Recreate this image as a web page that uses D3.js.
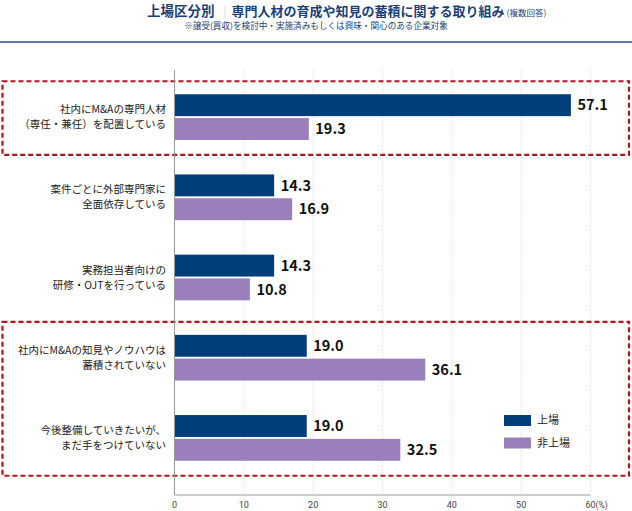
<!DOCTYPE html>
<html>
<head>
<meta charset="utf-8">
<script src="https://cdn.jsdelivr.net/npm/d3@7"></script>
<style>
  html, body { margin: 0; padding: 0; background: #fff; }
  svg { display: block; font-family: "Noto Sans CJK JP", "Noto Sans", sans-serif; }
</style>
</head>
<body>
<svg id="chart" width="632" height="511"></svg>
<script>
// categories (two-line labels)
const categories = [
  ["社内にM&Aの専門人材", "（専任・兼任）を配置している"],
  ["案件ごとに外部専門家に", "全面依存している"],
  ["実務担当者向けの", "研修・OJTを行っている"],
  ["社内にM&Aの知見やノウハウは", "蓄積されていない"],
  ["今後整備していきたいが、", "まだ手をつけていない"]
];
const seriesNames = ["上場", "非上場"];
const listed = [57.1, 14.3, 14.3, 19.0, 19.0];
const unlisted = [19.3, 16.9, 10.8, 36.1, 32.5];
const xTicks = [0, 10, 20, 30, 40, 50, 60];
const highlighted = [[0], [3, 4]]; // groups inside red dashed boxes

const colors = ["#003f7c", "#9a80bb"];
const navy = "#1b3f78";

const svg = d3.select("#chart");
const W = 632;

// title
const title = svg.append("text")
  .attr("x", 147)
  .attr("y", 16)
  .attr("fill", navy)
  .attr("font-weight", "bold");
title.append("tspan").attr("font-size", 13.5).text("上場区分別");
title.append("tspan").attr("font-size", 13).attr("fill", "#c8c8d0").attr("font-weight", "normal").attr("dx", 4).text("｜");
title.append("tspan").attr("font-size", 13).text("専門人材の育成や知見の蓄積に関する取り組み");
title.append("tspan").attr("font-size", 8.5).attr("font-weight", "normal").attr("dx", 2).text("(複数回答)");

svg.append("text")
  .attr("x", 316).attr("y", 29)
  .attr("text-anchor", "middle")
  .attr("font-size", 8.6)
  .attr("fill", navy)
  .text("※譲受(買収)を検討中・実施済みもしくは興味・関心のある企業対象");

svg.append("line")
  .attr("x1", 0).attr("x2", W).attr("y1", 42).attr("y2", 42)
  .attr("stroke", "#2a4f86").attr("stroke-width", 1.6);

// scales
const x = d3.scaleLinear().domain([0, 60]).range([174.5, 590.5]);
const yTop = 70, yBottom = 495;
const y = d3.scaleBand()
  .domain(d3.range(categories.length))
  .range([77, 478])
  .paddingInner(0.43)
  .paddingOuter(0.215);
const ySub = d3.scaleBand()
  .domain(d3.range(seriesNames.length))
  .range([0, y.bandwidth()])
  .paddingInner(0.08);

// grid lines
svg.append("g")
  .selectAll("line")
  .data(xTicks.filter(d => d > 0))
  .join("line")
  .attr("x1", d => x(d)).attr("x2", d => x(d))
  .attr("y1", yTop).attr("y2", yBottom)
  .attr("stroke", "#c9c9c9")
  .attr("stroke-width", 0.8)
  .attr("stroke-dasharray", "1,1.5");

// red dashed boxes
const boxes = highlighted.map(g => ({
  top: y(g[0]) - 13,
  bottom: y(g[g.length - 1]) + y.bandwidth() + 15
}));
svg.append("g")
  .selectAll("rect")
  .data(boxes)
  .join("rect")
  .attr("x", 2.5).attr("width", 626.5)
  .attr("y", d => d.top).attr("height", d => d.bottom - d.top)
  .attr("fill", "none")
  .attr("stroke", "#b5121b")
  .attr("stroke-width", 2.2)
  .attr("stroke-dasharray", "5,3");

// axes lines
svg.append("line")
  .attr("x1", x(0)).attr("x2", x(0)).attr("y1", yTop).attr("y2", yBottom)
  .attr("stroke", "#9a9a9a").attr("stroke-width", 1);
svg.append("line")
  .attr("x1", x(0)).attr("x2", x(60)).attr("y1", yBottom).attr("y2", yBottom)
  .attr("stroke", "#9a9a9a").attr("stroke-width", 1);

// tick labels
svg.append("g")
  .selectAll("text")
  .data(xTicks)
  .join("text")
  .attr("x", d => x(d))
  .attr("y", 508)
  .attr("text-anchor", "middle")
  .attr("font-family", "Roboto, sans-serif")
  .attr("font-size", 9)
  .attr("fill", "#444")
  .text(d => d);
svg.append("text")
  .attr("x", x(60) + 5).attr("y", 508)
  .attr("font-family", "Roboto, sans-serif")
  .attr("font-size", 8.5)
  .attr("fill", "#444")
  .text("(%)");

// bars
const rows = categories.map((c, i) => ({ i, values: [listed[i], unlisted[i]] }));
const group = svg.append("g")
  .selectAll("g")
  .data(rows)
  .join("g")
  .attr("transform", d => `translate(0,${y(d.i)})`);

group.selectAll("rect")
  .data(d => d.values.map((v, s) => ({ v, s })))
  .join("rect")
  .attr("x", x(0) + 0.5)
  .attr("y", d => ySub(d.s))
  .attr("width", d => x(d.v) - x(0))
  .attr("height", ySub.bandwidth())
  .attr("fill", d => colors[d.s]);

group.selectAll("text.val")
  .data(d => d.values.map((v, s) => ({ v, s })))
  .join("text")
  .attr("class", "val")
  .attr("x", d => x(d.v) + 7)
  .attr("y", d => ySub(d.s) + ySub.bandwidth() / 2)
  .attr("dy", "0.36em")
  .attr("font-size", 14.5)
  .attr("font-weight", "bold")
  .attr("fill", "#111")
  .text(d => d.v.toFixed(1));

// category labels
group.append("text")
  .attr("text-anchor", "end")
  .attr("font-size", 10.5)
  .attr("fill", "#222")
  .selectAll("tspan")
  .data(d => categories[d.i])
  .join("tspan")
  .attr("x", 166)
  .attr("y", (d, k) => y.bandwidth() / 2 - 7.5 + k * 15)
  .attr("dy", "0.35em")
  .text(d => d);

// legend
const legend = svg.append("g")
  .selectAll("g")
  .data(seriesNames)
  .join("g")
  .attr("transform", (d, i) => `translate(504,${415 + i * 22.5})`);
legend.append("rect")
  .attr("width", 27).attr("height", 11)
  .attr("fill", (d, i) => colors[i]);
legend.append("text")
  .attr("x", 33).attr("y", 5.5).attr("dy", "0.35em")
  .attr("font-size", 11)
  .attr("fill", "#222")
  .text(d => d);
</script>
</body>
</html>
